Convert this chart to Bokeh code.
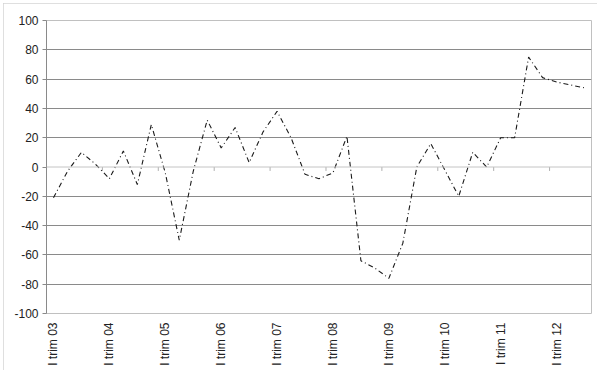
import math
from bokeh.plotting import figure
from bokeh.models import FixedTicker, Span
from bokeh.embed import file_html
from bokeh.resources import INLINE

quarters = [
    "I trim 03", "II trim 03", "III trim 03", "IV trim 03",
    "I trim 04", "II trim 04", "III trim 04", "IV trim 04",
    "I trim 05", "II trim 05", "III trim 05", "IV trim 05",
    "I trim 06", "II trim 06", "III trim 06", "IV trim 06",
    "I trim 07", "II trim 07", "III trim 07", "IV trim 07",
    "I trim 08", "II trim 08", "III trim 08", "IV trim 08",
    "I trim 09", "II trim 09", "III trim 09", "IV trim 09",
    "I trim 10", "II trim 10", "III trim 10", "IV trim 10",
    "I trim 11", "II trim 11", "III trim 11", "IV trim 11",
    "I trim 12", "II trim 12", "III trim 12",
]
values = [
    -21, -3, 10, 2, -8, 11, -12, 29,
    -4, -50, -3, 32, 13, 27, 3, 24,
    38, 20, -5, -8, -4, 21, -64, -69,
    -76, -52, 0, 16, -2, -20, 10, 0,
    20, 20, 75, 61, 58, 56, 54,
]
y_ticks = [-100, -80, -60, -40, -20, 0, 20, 40, 60, 80, 100]
label_every = 4

n = len(quarters)
xs = list(range(n))

p = figure(
    width=594, height=367,
    x_range=(-0.5, n - 0.5), y_range=(-100, 100),
    output_backend="svg", toolbar_location=None,
    min_border_left=43, min_border_right=6,
    min_border_top=17, min_border_bottom=57,
)
p.background_fill_color = "white"
p.border_fill_color = "white"
p.outline_line_color = "#c0c0c0"
p.outline_line_width = 1

# y axis
p.yaxis.ticker = FixedTicker(ticks=y_ticks)
p.yaxis.major_label_overrides = {t: str(t) for t in y_ticks}
p.yaxis.axis_line_color = "#8a8a8a"
p.yaxis.major_tick_line_color = "#8a8a8a"
p.yaxis.major_tick_out = 4
p.yaxis.major_tick_in = 0
p.yaxis.minor_tick_line_color = None
p.yaxis.major_label_standoff = 4
p.yaxis.major_label_text_font = "Liberation Sans"
p.yaxis.major_label_text_font_size = "12px"
p.yaxis.major_label_text_color = "#222222"

# grid
p.xgrid.visible = False
p.ygrid.ticker = FixedTicker(ticks=[t for t in y_ticks if t not in (0, y_ticks[0], y_ticks[-1])])
p.ygrid.grid_line_color = "#8a8a8a"
p.ygrid.grid_line_width = 1

# x axis (labels only at bottom)
label_pos = list(range(0, n, label_every))
p.xaxis.ticker = FixedTicker(ticks=label_pos)
p.xaxis.major_label_overrides = {i: quarters[i] for i in label_pos}
p.xaxis.major_label_orientation = math.pi / 2
p.xaxis.axis_line_color = None
p.xaxis.major_tick_line_color = None
p.xaxis.major_tick_out = 0
p.xaxis.major_tick_in = 0
p.xaxis.minor_tick_line_color = None
p.xaxis.major_label_standoff = 9
p.xaxis.major_label_text_font = "Liberation Sans"
p.xaxis.major_label_text_font_size = "12px"
p.xaxis.major_label_text_color = "#222222"

# category axis line at zero, with its tick marks
p.add_layout(Span(location=0, dimension="width", line_color="#c4c4c4", line_width=1))
bounds = [i - 0.5 for i in range(label_every, n, label_every)]
p.segment(x0=bounds, y0=[0] * len(bounds), x1=bounds, y1=[-2.7] * len(bounds),
          line_color="#b0b0b0", line_width=1)

# series
p.line(xs, values, line_color="#1a1a1a", line_width=1.1, line_dash="5 3 1 3")

p.styles = {"margin": "3px", "outline": "1px solid #d4d4d4", "outline-offset": "-1px"}

open("out.html", "w").write(file_html(p, INLINE))
